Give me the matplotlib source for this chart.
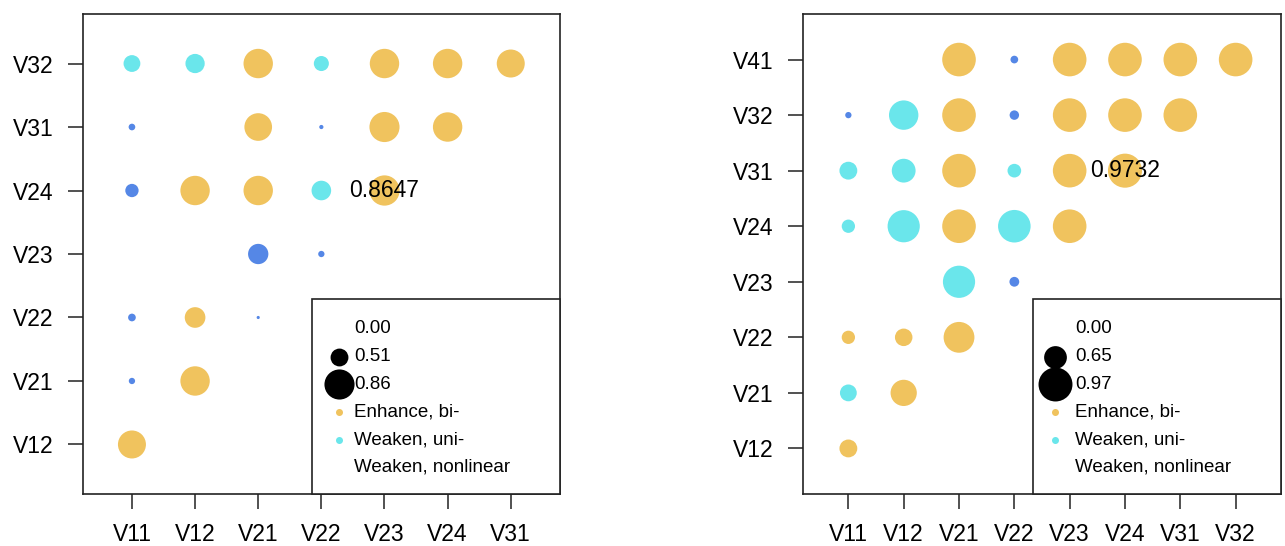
import matplotlib.pyplot as plt
from matplotlib.patches import Rectangle

plt.rcParams['font.family'] = ['Liberation Sans', 'DejaVu Sans']

# ---- left panel data ----
left_xcats = ['V11', 'V12', 'V21', 'V22', 'V23', 'V24', 'V31']
left_ycats = ['V12', 'V21', 'V22', 'V23', 'V24', 'V31', 'V32']
left_px = ['V11', 'V12', 'V21', 'V22', 'V23', 'V24', 'V31',
           'V11', 'V21', 'V22', 'V23', 'V24',
           'V11', 'V12', 'V21', 'V22', 'V23',
           'V21', 'V22',
           'V11', 'V12', 'V21',
           'V11', 'V12',
           'V11']
left_py = ['V32'] * 7 + ['V31'] * 5 + ['V24'] * 5 + ['V23'] * 2 + ['V22'] * 3 + ['V21'] * 2 + ['V12']
left_val = [0.48, 0.55, 0.84, 0.43, 0.84, 0.84, 0.80,
            0.19, 0.79, 0.12, 0.86, 0.84,
            0.38, 0.84, 0.84, 0.56, 0.8647,
            0.58, 0.18,
            0.22, 0.59, 0.09,
            0.18, 0.84,
            0.80]
left_kind = ['W', 'W', 'E', 'W', 'E', 'E', 'E',
             'N', 'E', 'N', 'E', 'E',
             'N', 'E', 'E', 'W', 'E',
             'N', 'N',
             'N', 'E', 'N',
             'N', 'E',
             'E']
left_note = '0.8647'
left_note_at = ('V23', 'V24')
left_size_leg = [0.00, 0.51, 0.86]

# ---- right panel data ----
right_xcats = ['V11', 'V12', 'V21', 'V22', 'V23', 'V24', 'V31', 'V32']
right_ycats = ['V12', 'V21', 'V22', 'V23', 'V24', 'V31', 'V32', 'V41']
right_px = ['V21', 'V22', 'V23', 'V24', 'V31', 'V32',
            'V11', 'V12', 'V21', 'V22', 'V23', 'V24', 'V31',
            'V11', 'V12', 'V21', 'V22', 'V23', 'V24',
            'V11', 'V12', 'V21', 'V22', 'V23',
            'V21', 'V22',
            'V11', 'V12', 'V21',
            'V11', 'V12',
            'V11']
right_py = ['V41'] * 6 + ['V32'] * 7 + ['V31'] * 6 + ['V24'] * 5 + ['V23'] * 2 + ['V22'] * 3 + ['V21'] * 2 + ['V12']
right_val = [0.96, 0.22, 0.96, 0.96, 0.96, 0.96,
             0.18, 0.84, 0.96, 0.27, 0.96, 0.96, 0.96,
             0.51, 0.68, 0.96, 0.39, 0.96, 0.9732,
             0.38, 0.92, 0.96, 0.93, 0.96,
             0.92, 0.28,
             0.38, 0.50, 0.88,
             0.48, 0.75,
             0.51]
right_kind = ['E', 'N', 'E', 'E', 'E', 'E',
              'N', 'W', 'E', 'N', 'E', 'E', 'E',
              'W', 'W', 'E', 'W', 'E', 'E',
              'W', 'W', 'E', 'W', 'E',
              'W', 'N',
              'E', 'E', 'E',
              'W', 'E',
              'E']
right_note = '0.9732'
right_note_at = ('V24', 'V31')
right_size_leg = [0.00, 0.65, 0.97]

kind_names = {'E': 'Enhance, bi-', 'W': 'Weaken, uni-', 'N': 'Weaken, nonlinear'}
kind_colors = {'E': '#F0C35E', 'W': '#6AE6EB', 'N': '#5587E6'}
legend_kinds = ['E', 'W', 'N']
legend_dot = 0.2

K = 25.2  # marker diameter in points per unit value


def draw_panel(ax, xcats, ycats, px, py, val, kind, note, note_at, size_leg, mk_x):
    xi = [xcats.index(c) + 1 for c in px]
    yi = [ycats.index(c) + 1 for c in py]
    ax.scatter(xi, yi, s=[(K * v) ** 2 for v in val],
               c=[kind_colors[k] for k in kind], linewidths=0, zorder=2)
    ax.text(xcats.index(note_at[0]) + 1, ycats.index(note_at[1]) + 1, note,
            ha='center', va='center', fontsize=16.5, zorder=3)

    n = len(xcats)
    ext = n * 0.04
    ax.set_xlim(0.5 - ext, n + 0.5 + ext)
    ax.set_ylim(0.5 - ext, n + 0.5 + ext)
    ax.set_xticks(range(1, n + 1))
    ax.set_xticklabels(xcats)
    ax.set_yticks(range(1, n + 1))
    ax.set_yticklabels(ycats)
    ax.tick_params(axis='both', length=10.5, width=1.1, color='#222222', labelsize=16.5)
    ax.tick_params(axis='x', pad=10.5)
    ax.tick_params(axis='y', pad=10.5)
    for sp in ax.spines.values():
        sp.set_color('#222222')
        sp.set_linewidth(1.2)

    # legend box, lower right
    leg_left, leg_top = 0.481, 0.406
    ax.add_patch(Rectangle((leg_left, 0), 1 - leg_left, leg_top, transform=ax.transAxes,
                           facecolor='white', edgecolor='#222222', linewidth=1.2,
                           zorder=4, clip_on=False))
    labels = ['%.2f' % v for v in size_leg] + [kind_names[k] for k in legend_kinds]
    sizes = list(size_leg) + [legend_dot, legend_dot, 0]
    colors = ['black'] * len(size_leg) + [kind_colors['E'], kind_colors['W'], 'white']
    row0, step = 0.344, 0.0577
    for i, (lab, s, col) in enumerate(zip(labels, sizes, colors)):
        y = row0 - i * step
        if s > 0:
            ax.scatter([mk_x], [y], s=(K * s) ** 2, c=col, linewidths=0,
                       transform=ax.transAxes, zorder=5, clip_on=False)
        ax.text(0.569, y, lab, transform=ax.transAxes, ha='left', va='center',
                fontsize=13.5, zorder=6)


fig = plt.figure(figsize=(12.85, 5.46), dpi=100)
ax1 = fig.add_axes([82.7 / 1285, 52 / 546, 477.3 / 1285, 480 / 546])
ax2 = fig.add_axes([803 / 1285, 52 / 546, 478 / 1285, 480 / 546])

draw_panel(ax1, left_xcats, left_ycats, left_px, left_py, left_val, left_kind,
           left_note, left_note_at, left_size_leg, 0.5375)
draw_panel(ax2, right_xcats, right_ycats, right_px, right_py, right_val, right_kind,
           right_note, right_note_at, right_size_leg, 0.527)

fig.savefig('out.png', dpi=100)
